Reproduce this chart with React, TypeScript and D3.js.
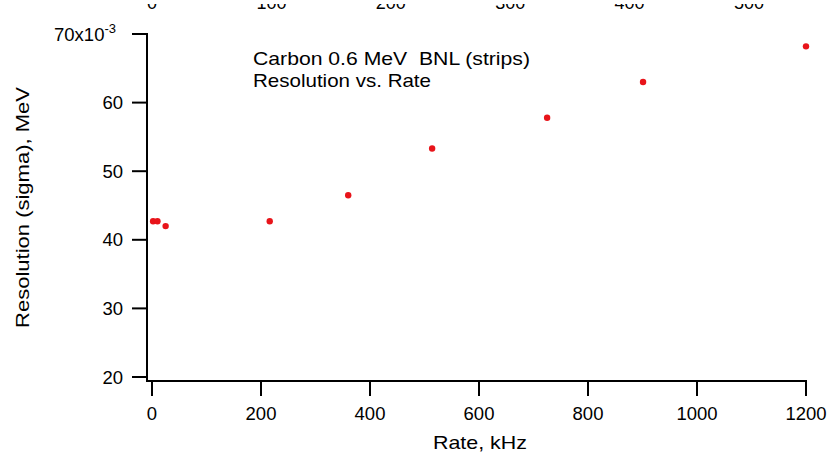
import React from "react";
import * as d3 from "d3";

const rates = [2, 10, 25, 216, 360, 514, 725, 901, 1200];
const resolution = [42.7, 42.7, 42.0, 42.7, 46.5, 53.3, 57.8, 63.0, 68.2];
const xTicks = [0, 200, 400, 600, 800, 1000, 1200];
const yTicks = [20, 30, 40, 50, 60, 70];
const topTickLabels = ["0", "100", "200", "300", "400", "500"];
const titleLines = ["Carbon 0.6 MeV  BNL (strips)", "Resolution vs. Rate"];
const titleWidths = [277, 178];

const W = 829;
const H = 458;
const font = "'Liberation Sans', Arial, sans-serif";

export default function App() {
  const x = d3.scaleLinear().domain([0, 1200]).range([152, 806]);
  const y = d3.scaleLinear().domain([20, 70]).range([377, 34]);
  const topX = d3.scaleLinear().domain([0, 5]).range([152, 749]);
  const axisY = 381;
  const axisX = 147;
  return (
    <svg
      width={W}
      height={H}
      style={{ position: "absolute", left: 0, top: 0, background: "#fff" }}
      fontFamily={font}
    >
      <defs>
        <clipPath id="topclip">
          <rect x={0} y={4} width={W} height={10} />
        </clipPath>
      </defs>
      <rect width={W} height={H} fill="#fff" />
      <g clipPath="url(#topclip)">
        {topTickLabels.map((t, i) => (
          <text key={t} x={topX(i)} y={9} textAnchor="middle" fontSize={18} fill="#000">
            {t}
          </text>
        ))}
      </g>
      {/* y axis */}
      <line x1={axisX} x2={axisX} y1={y(70) - 1} y2={axisY} stroke="#000" strokeWidth={2} />
      {yTicks.map((t) => (
        <g key={t}>
          <line x1={axisX - 15} x2={axisX} y1={y(t)} y2={y(t)} stroke="#000" strokeWidth={2} />
          <text
            x={t === 70 ? 116 : 123}
            y={y(t)}
            dy="0.36em"
            textAnchor="end"
            fontSize={18.5}
            fill="#000"
          >
            {t === 70 ? (
              <>
                70x10<tspan dy="-0.6em" fontSize={13}>-3</tspan>
              </>
            ) : (
              t
            )}
          </text>
        </g>
      ))}
      {/* x axis */}
      <line x1={axisX - 1} x2={x(1200) + 1} y1={axisY} y2={axisY} stroke="#000" strokeWidth={2} />
      {xTicks.map((t) => (
        <g key={t}>
          <line x1={x(t)} x2={x(t)} y1={axisY} y2={axisY + 15} stroke="#000" strokeWidth={2} />
          <text x={x(t)} y={420} textAnchor="middle" fontSize={18.5} fill="#000">
            {t}
          </text>
        </g>
      ))}
      <text
        x={480}
        y={449}
        textAnchor="middle"
        fontSize={18.5}
        fill="#000"
        textLength={94}
        lengthAdjust="spacingAndGlyphs"
      >
        Rate, kHz
      </text>
      <text
        transform={`translate(29, 207.5) rotate(-90)`}
        textAnchor="middle"
        fontSize={18.5}
        fill="#000"
        textLength={241}
        lengthAdjust="spacingAndGlyphs"
      >
        Resolution (sigma), MeV
      </text>
      {titleLines.map((l, i) => (
        <text
          key={l}
          x={253}
          y={65 + i * 22}
          fontSize={18.5}
          fill="#000"
          xmlSpace="preserve"
          textLength={titleWidths[i]}
          lengthAdjust="spacingAndGlyphs"
        >
          {l}
        </text>
      ))}
      {rates.map((r, i) => (
        <circle key={i} cx={x(r)} cy={y(resolution[i])} r={3.2} fill="#e8141a" />
      ))}
    </svg>
  );
}
